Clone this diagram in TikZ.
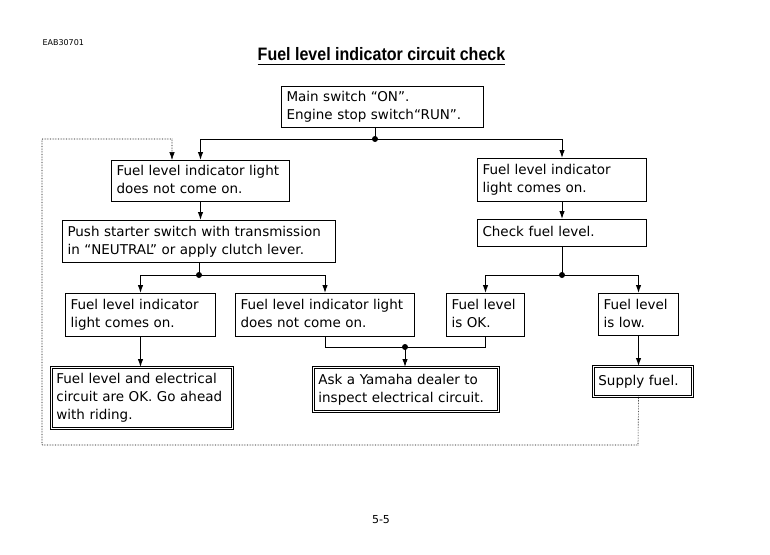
\documentclass[tikz,border=0pt]{standalone}
\usepackage{fontspec}
\setmainfont{DejaVu Sans}
\newfontfamily\titlefont{Liberation Sans}
\usetikzlibrary{arrows.meta, calc}

\tikzset{
  box/.style={draw, line width=1pt, anchor=north west, align=left,
    inner xsep=5pt, inner ysep=0pt, font=\fontsize{13.5}{18}\selectfont,
    execute at begin node=\strut, execute at end node=\strut},
  endbox/.style={box, double, line width=0.8pt, double distance=1.6pt},
  wire/.style={line width=1pt},
  flow/.style={wire, -{Latex[length=8pt,width=5.5pt]}},
  back/.style={densely dotted, line width=0.6pt, -{Latex[length=8pt,width=5.5pt]}},
}

\begin{document}
\begin{tikzpicture}[x=1pt, y=-1pt]
\useasboundingbox (0,0) rectangle (770,554);

\node[anchor=west, font=\fontsize{8}{9}\selectfont] (code) at (39,43) {EAB30701};
\node[anchor=base, inner sep=0pt, font=\titlefont\bfseries\fontsize{18}{20}\selectfont] (title) at (381.5,60)
  {\scalebox{0.89}[1]{Fuel level indicator circuit check}};
\draw[line width=1.3pt] ([yshift=-4.5pt]title.base west) -- ([yshift=-4.5pt]title.base east);

%---boxes---
\node[box, text width=192pt, minimum height=41pt] (main) at (281,86) {Main switch “ON”.\\Engine stop switch“RUN”.};

\node[box, text width=168pt, minimum height=41pt] (nolight) at (111,160) {Fuel level indicator light\\does not come on.};
\node[box, text width=263pt, minimum height=42pt] (starter) at (62,220) {Push starter switch with transmission\\in “NEUTRAL” or apply clutch lever.};
\node[box, text width=140pt, minimum height=43pt] (lighton) at (65,293) {Fuel level indicator\\light comes on.};
\node[box, text width=169pt, minimum height=43pt] (stilloff) at (235,293) {Fuel level indicator light\\does not come on.};

\node[box, text width=159pt, minimum height=43pt] (light) at (477,158) {Fuel level indicator\\light comes on.};
\node[box, text width=159pt, minimum height=27pt] (check) at (477,219) {Check fuel level.};
\node[box, text width=68pt, minimum height=43pt] (levelok) at (446,293) {Fuel level\\is OK.};
\node[box, text width=70pt, minimum height=42pt] (levellow) at (598,293) {Fuel level\\is low.};

\node[endbox, text width=171pt, minimum height=61pt] (ride) at (51,367) {Fuel level and electrical\\circuit are OK. Go ahead\\with riding.};
\node[endbox, text width=175pt, minimum height=44pt] (dealer) at (313,367) {Ask a Yamaha dealer to\\inspect electrical circuit.};
\node[endbox, text width=89pt, minimum height=30pt] (supply) at (593,366) {Supply fuel.};

%---junctions---
\coordinate (j1) at (375,139);
\coordinate (j2) at ($(starter.south)+(0,12)$);
\coordinate (j3) at ($(check.south)+(0,28)$);
\coordinate (j4) at (405,347);

\draw[wire] (main.south -| j1) -- (j1);
\draw[flow] (j1) -| (nolight.north);
\draw[flow] (j1) -| (light.north);
\draw[flow] (nolight.south) -- (nolight.south |- starter.north);
\draw[wire] (starter.south) -- (j2);
\draw[flow] (j2) -| (lighton.north);
\draw[flow] (j2) -| (stilloff.north);
\draw[flow] (lighton.south) -- (lighton.south |- ride.north);

\draw[flow] (light.south) -- (light.south |- check.north);
\draw[wire] (check.south) -- (j3);
\draw[flow] (j3) -| (levelok.north);
\draw[flow] (j3) -| (levellow.north);
\draw[flow] (levellow.south) -- (levellow.south |- supply.north);

\draw[wire] (stilloff.south) |- (j4);
\draw[wire] (levelok.south) |- (j4);
\draw[flow] (j4) -- (j4 |- dealer.north);

\fill (j1) circle (3pt);
\fill (j2) circle (3pt);
\fill (j3) circle (3pt);
\fill (j4) circle (3pt);

%---back to start---
\coordinate (l1) at (638,445);
\coordinate (l2) at (42,445);
\coordinate (l3) at (42,139);
\coordinate (l4) at (172,139);
\draw[back] (supply.south -| levellow.south) -- (l1) -- (l2) -- (l3) -- (l4) -- (l4 |- nolight.north);

\node[font=\fontsize{11}{13}\selectfont] (page) at (381,520) {5-5};

\end{tikzpicture}
\end{document}
